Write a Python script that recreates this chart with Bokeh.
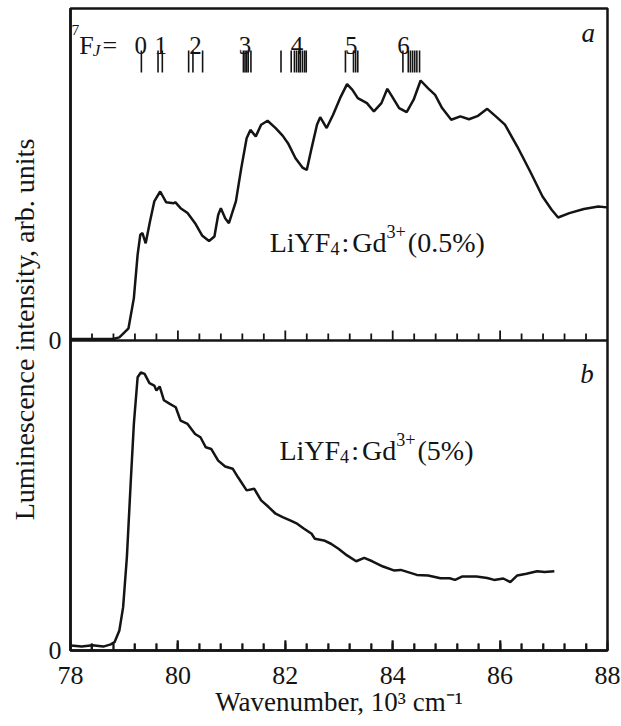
from bokeh.plotting import figure
from bokeh.models import (Range1d, FixedTicker, SingleIntervalTicker, Label, Span,
                          CustomJSTickFormatter)
from bokeh.core.properties import value
from bokeh.embed import file_html
from bokeh.resources import INLINE

# ---------------- data ----------------
# (a) LiYF4:Gd3+ (0.5%) spectrum, wavenumber in 10^3 cm^-1, intensity arb. units
X_A = [78.00, 78.40, 78.81, 78.91, 79.08, 79.18, 79.25, 79.30, 79.34, 79.40,
       79.48, 79.56, 79.67, 79.78, 79.92, 79.95, 80.05, 80.18, 80.32, 80.45,
       80.58, 80.68, 80.75, 80.80, 80.88, 80.95, 81.08, 81.18, 81.28, 81.35,
       81.45, 81.55, 81.67, 81.82, 81.95, 82.05, 82.19, 82.32, 82.40, 82.49,
       82.59, 82.65, 82.77, 82.89, 83.02, 83.15, 83.25, 83.35, 83.52, 83.65,
       83.79, 83.90, 83.99, 84.12, 84.26, 84.39, 84.52, 84.66, 84.79, 84.92,
       85.09, 85.26, 85.42, 85.59, 85.76, 85.92, 86.09, 86.32, 86.56, 86.79,
       86.96, 87.08, 87.29, 87.56, 87.83, 87.99]
Y_A = [0.006, 0.006, 0.007, 0.012, 0.047, 0.163, 0.330, 0.407, 0.413, 0.374,
       0.458, 0.535, 0.573, 0.532, 0.528, 0.532, 0.509, 0.490, 0.451, 0.404,
       0.383, 0.400, 0.483, 0.509, 0.470, 0.451, 0.535, 0.663, 0.778, 0.810,
       0.785, 0.830, 0.845, 0.817, 0.788, 0.759, 0.701, 0.665, 0.656, 0.740,
       0.830, 0.859, 0.817, 0.868, 0.932, 0.986, 0.964, 0.932, 0.913, 0.881,
       0.913, 0.968, 0.938, 0.894, 0.878, 0.926, 1.000, 0.970, 0.945, 0.894,
       0.849, 0.862, 0.851, 0.864, 0.891, 0.862, 0.830, 0.746, 0.650, 0.554,
       0.503, 0.473, 0.490, 0.506, 0.515, 0.512]

# (b) LiYF4:Gd3+ (5%) spectrum
X_B = [78.01, 78.21, 78.41, 78.61, 78.75, 78.82, 78.91, 78.98, 79.05, 79.12,
       79.18, 79.25, 79.31, 79.38, 79.47, 79.56, 79.60, 79.66, 79.74, 79.85,
       79.96, 80.05, 80.18, 80.32, 80.42, 80.52, 80.62, 80.75, 80.88, 81.02,
       81.12, 81.28, 81.42, 81.55, 81.69, 81.82, 81.95, 82.09, 82.22, 82.35,
       82.49, 82.55, 82.72, 82.85, 82.99, 83.15, 83.32, 83.47, 83.62, 83.82,
       84.02, 84.15, 84.45, 84.66, 84.89, 85.06, 85.16, 85.29, 85.56, 85.76,
       85.89, 86.06, 86.19, 86.32, 86.49, 86.69, 86.83, 87.01]
Y_B = [0.018, 0.014, 0.019, 0.014, 0.022, 0.030, 0.072, 0.156, 0.336, 0.600,
       0.815, 0.983, 1.000, 0.995, 0.962, 0.953, 0.935, 0.950, 0.900, 0.887,
       0.875, 0.827, 0.815, 0.779, 0.767, 0.731, 0.725, 0.683, 0.662, 0.654,
       0.623, 0.576, 0.582, 0.540, 0.516, 0.492, 0.480, 0.468, 0.456, 0.438,
       0.420, 0.402, 0.396, 0.384, 0.366, 0.342, 0.321, 0.333, 0.321, 0.302,
       0.288, 0.290, 0.272, 0.270, 0.260, 0.260, 0.254, 0.266, 0.266, 0.261,
       0.254, 0.259, 0.246, 0.270, 0.276, 0.285, 0.282, 0.285]

# 7F_J Stark levels (10^3 cm^-1) and the J labels
LEVELS = [79.32, 79.63, 79.71,
          80.20, 80.28, 80.46,
          81.22, 81.25, 81.28, 81.31, 81.36,
          81.92, 82.11, 82.17, 82.21, 82.25, 82.28, 82.32, 82.36, 82.39,
          83.12, 83.27, 83.31, 83.35,
          84.19, 84.29, 84.33, 84.37, 84.41, 84.45, 84.50]
J_LABELS = ["0", "1", "2", "3", "4", "5", "6"]
J_POS = [79.31, 79.68, 80.33, 81.25, 82.22, 83.23, 84.20]

# x-axis tick positions (major labelled, minor unlabelled)
TICK_MAJOR = [80.0, 82.0, 84.0, 86.0]
TICK_MINOR = [78.4, 78.8, 79.2, 79.6, 80.4, 80.8, 81.2, 81.6, 82.4, 82.8,
              83.2, 83.6, 84.4, 84.8, 85.2, 85.6, 86.4, 86.8, 87.2, 87.6]

# ---------------- styling ----------------
FONT = "Liberation Serif"
INK = "#141414"
FS = 26
FS_XLAB = 27
FS_YLAB = 28

B_END = 2.3094                         # panel b: 0 at frame bottom
TOP_START, TOP_END = -1.1923, 1.2769   # panel a: 0 at the divider
B_PX = 642 / B_END                     # pixels per panel-b unit
A_PX = 642 / (TOP_END - TOP_START)     # pixels per panel-a unit
X_PX = 537 / 10.0                      # pixels per x unit
DIV_IN_B = -TOP_START * A_PX / B_PX    # divider position in panel-b units
MAJ_LEN, MIN_LEN = 10, 7               # tick lengths, px
TICK_W = 1.8
HALF = TICK_W / 2 / X_PX

p = figure(width=621, height=726, output_backend="svg", toolbar_location=None,
           title=None, x_range=Range1d(78, 88), y_range=Range1d(0, B_END),
           min_border_left=70, min_border_right=14, min_border_top=8,
           min_border_bottom=76)
p.extra_y_ranges = {"top": Range1d(TOP_START, TOP_END)}
p.grid.visible = False
p.background_fill_color = "white"
p.border_fill_color = "white"
p.outline_line_color = INK
p.outline_line_width = 2.5

xa = p.xaxis[0]
xa.ticker = SingleIntervalTicker(interval=2, num_minor_ticks=5)
xa.axis_line_color = INK
xa.axis_line_width = 2.5
xa.major_tick_in = MAJ_LEN
xa.major_tick_out = 0
xa.minor_tick_in = MIN_LEN
xa.minor_tick_out = 0
xa.major_tick_line_color = INK
xa.minor_tick_line_color = INK
xa.major_tick_line_width = TICK_W
xa.minor_tick_line_width = TICK_W
xa.major_label_standoff = 16
xa.major_label_text_font = FONT
xa.major_label_text_font_size = f"{FS}px"
xa.major_label_text_color = INK
xa.axis_label = "Wavenumber, 10\u00b3 cm\u207b\u00b9"
xa.axis_label_text_font = FONT
xa.axis_label_text_font_size = f"{FS_XLAB}px"
xa.axis_label_text_font_style = "normal"
xa.axis_label_text_color = INK
xa.axis_label_standoff = 0

# left axis: a "0" at the zero of each panel
ya = p.yaxis[0]
ya.ticker = FixedTicker(ticks=[0, DIV_IN_B])
ya.formatter = CustomJSTickFormatter(code="return '0'")
ya.axis_line_color = INK
ya.axis_line_width = 2.5
ya.major_tick_in = 0
ya.major_tick_out = 0
ya.minor_tick_in = 0
ya.minor_tick_out = 0
ya.major_label_standoff = 9
ya.major_label_text_font = FONT
ya.major_label_text_font_size = f"{FS}px"
ya.major_label_text_color = INK
ya.axis_label = "Luminescence intensity, arb. units"
ya.axis_label_text_font = FONT
ya.axis_label_text_font_size = f"{FS_YLAB}px"
ya.axis_label_text_font_style = "normal"
ya.axis_label_text_color = INK
ya.axis_label_standoff = 6

# spectra
p.line(X_A, Y_A, y_range_name="top", line_color=INK, line_width=2.5)
p.line(X_B, Y_B, line_color=INK, line_width=2.5)

# Stark level bars and J labels
p.segment(x0=LEVELS, y0=1.031, x1=LEVELS, y1=1.115, y_range_name="top",
          line_color=INK, line_width=1.6)
p.text(x=J_POS, y=1.135, text=J_LABELS, y_range_name="top",
       text_font=value(FONT), text_font_size=value("25px"), text_color=INK,
       text_align="center", text_baseline="alphabetic")

# inward tick marks along the divider and the bottom axis (filled slivers)
for ticks, ln in [(TICK_MAJOR, MAJ_LEN), (TICK_MINOR, MIN_LEN)]:
    lefts = [t - HALF for t in ticks]
    rights = [t + HALF for t in ticks]
    p.quad(left=lefts, right=rights, bottom=0.0, top=ln / A_PX,
           y_range_name="top", fill_color=INK, line_color=None)
    p.quad(left=lefts, right=rights, bottom=0.0, top=ln / B_PX,
           fill_color=INK, line_color=None)

# divider between the panels (zero line of panel a)
p.add_layout(Span(location=0, dimension="width", y_range_name="top",
                  line_color=INK, line_width=2.5))

TW = {"L": 611, "i": 278, "Y": 722, "F": 556, "4": 500, ":": 278, "G": 722,
      "d": 500, "3": 500, "+": 564, "(": 333, "0": 500, ".": 250, "5": 500,
      "%": 833, ")": 333, " ": 250, "7": 500, "=": 564, "J": 444}


def tw(s, fs):
    return sum(TW.get(c, 500) for c in s) * fs / 1000.0


def rich(x, y, rng, size, pieces):
    off = 0.0
    for txt, k, dy, gap, style in pieces:
        fs = size * k
        p.add_layout(Label(x=x, y=y, y_range_name=rng, text=txt,
                           x_offset=off, y_offset=dy * size,
                           text_font=FONT, text_font_size=f"{fs:.1f}px",
                           text_font_style=style, text_color=INK,
                           text_align="left", text_baseline="alphabetic"))
        off += tw(txt, fs) + gap


# "7F_J =" prefix
rich(78.0, 1.135, "top", 26, [
    ("", 1, 0, 1, "normal"),
    ("7", 0.6, 0.6, 0, "normal"),
    ("F", 1, 0, -1, "normal"),
    ("J", 0.66, -0.18, 2, "italic"),
    ("=", 1, 0, 0, "normal"),
])

SAMPLE_A = [("LiYF", 1, 0, 0, "normal"), ("4", 0.65, -0.2, 2, "normal"),
            (":", 1, 0, 3, "normal"), ("Gd", 1, 0, 0, "normal"),
            ("3+", 0.65, 0.38, 2, "normal"), ("(0.5%)", 1, 0, 0, "normal")]
SAMPLE_B = [("LiYF", 1, 0, 0, "normal"), ("4", 0.65, -0.2, 2, "normal"),
            (":", 1, 0, 3, "normal"), ("Gd", 1, 0, 0, "normal"),
            ("3+", 0.65, 0.38, 2, "normal"), ("(5%)", 1, 0, 0, "normal")]
rich(81.71, 0.377, "top", 28, SAMPLE_A)
rich(81.89, 0.719, "default", 28, SAMPLE_B)

for txt, xx, yy, rng in [("a", 87.64, 1.181, "top"), ("b", 87.62, 0.996, "default")]:
    p.add_layout(Label(x=xx, y=yy, y_range_name=rng, text=txt, text_font=FONT,
                       text_font_size="27px", text_font_style="italic",
                       text_color=INK, text_align="center",
                       text_baseline="alphabetic"))

open("out.html", "w").write(file_html(p, INLINE))
